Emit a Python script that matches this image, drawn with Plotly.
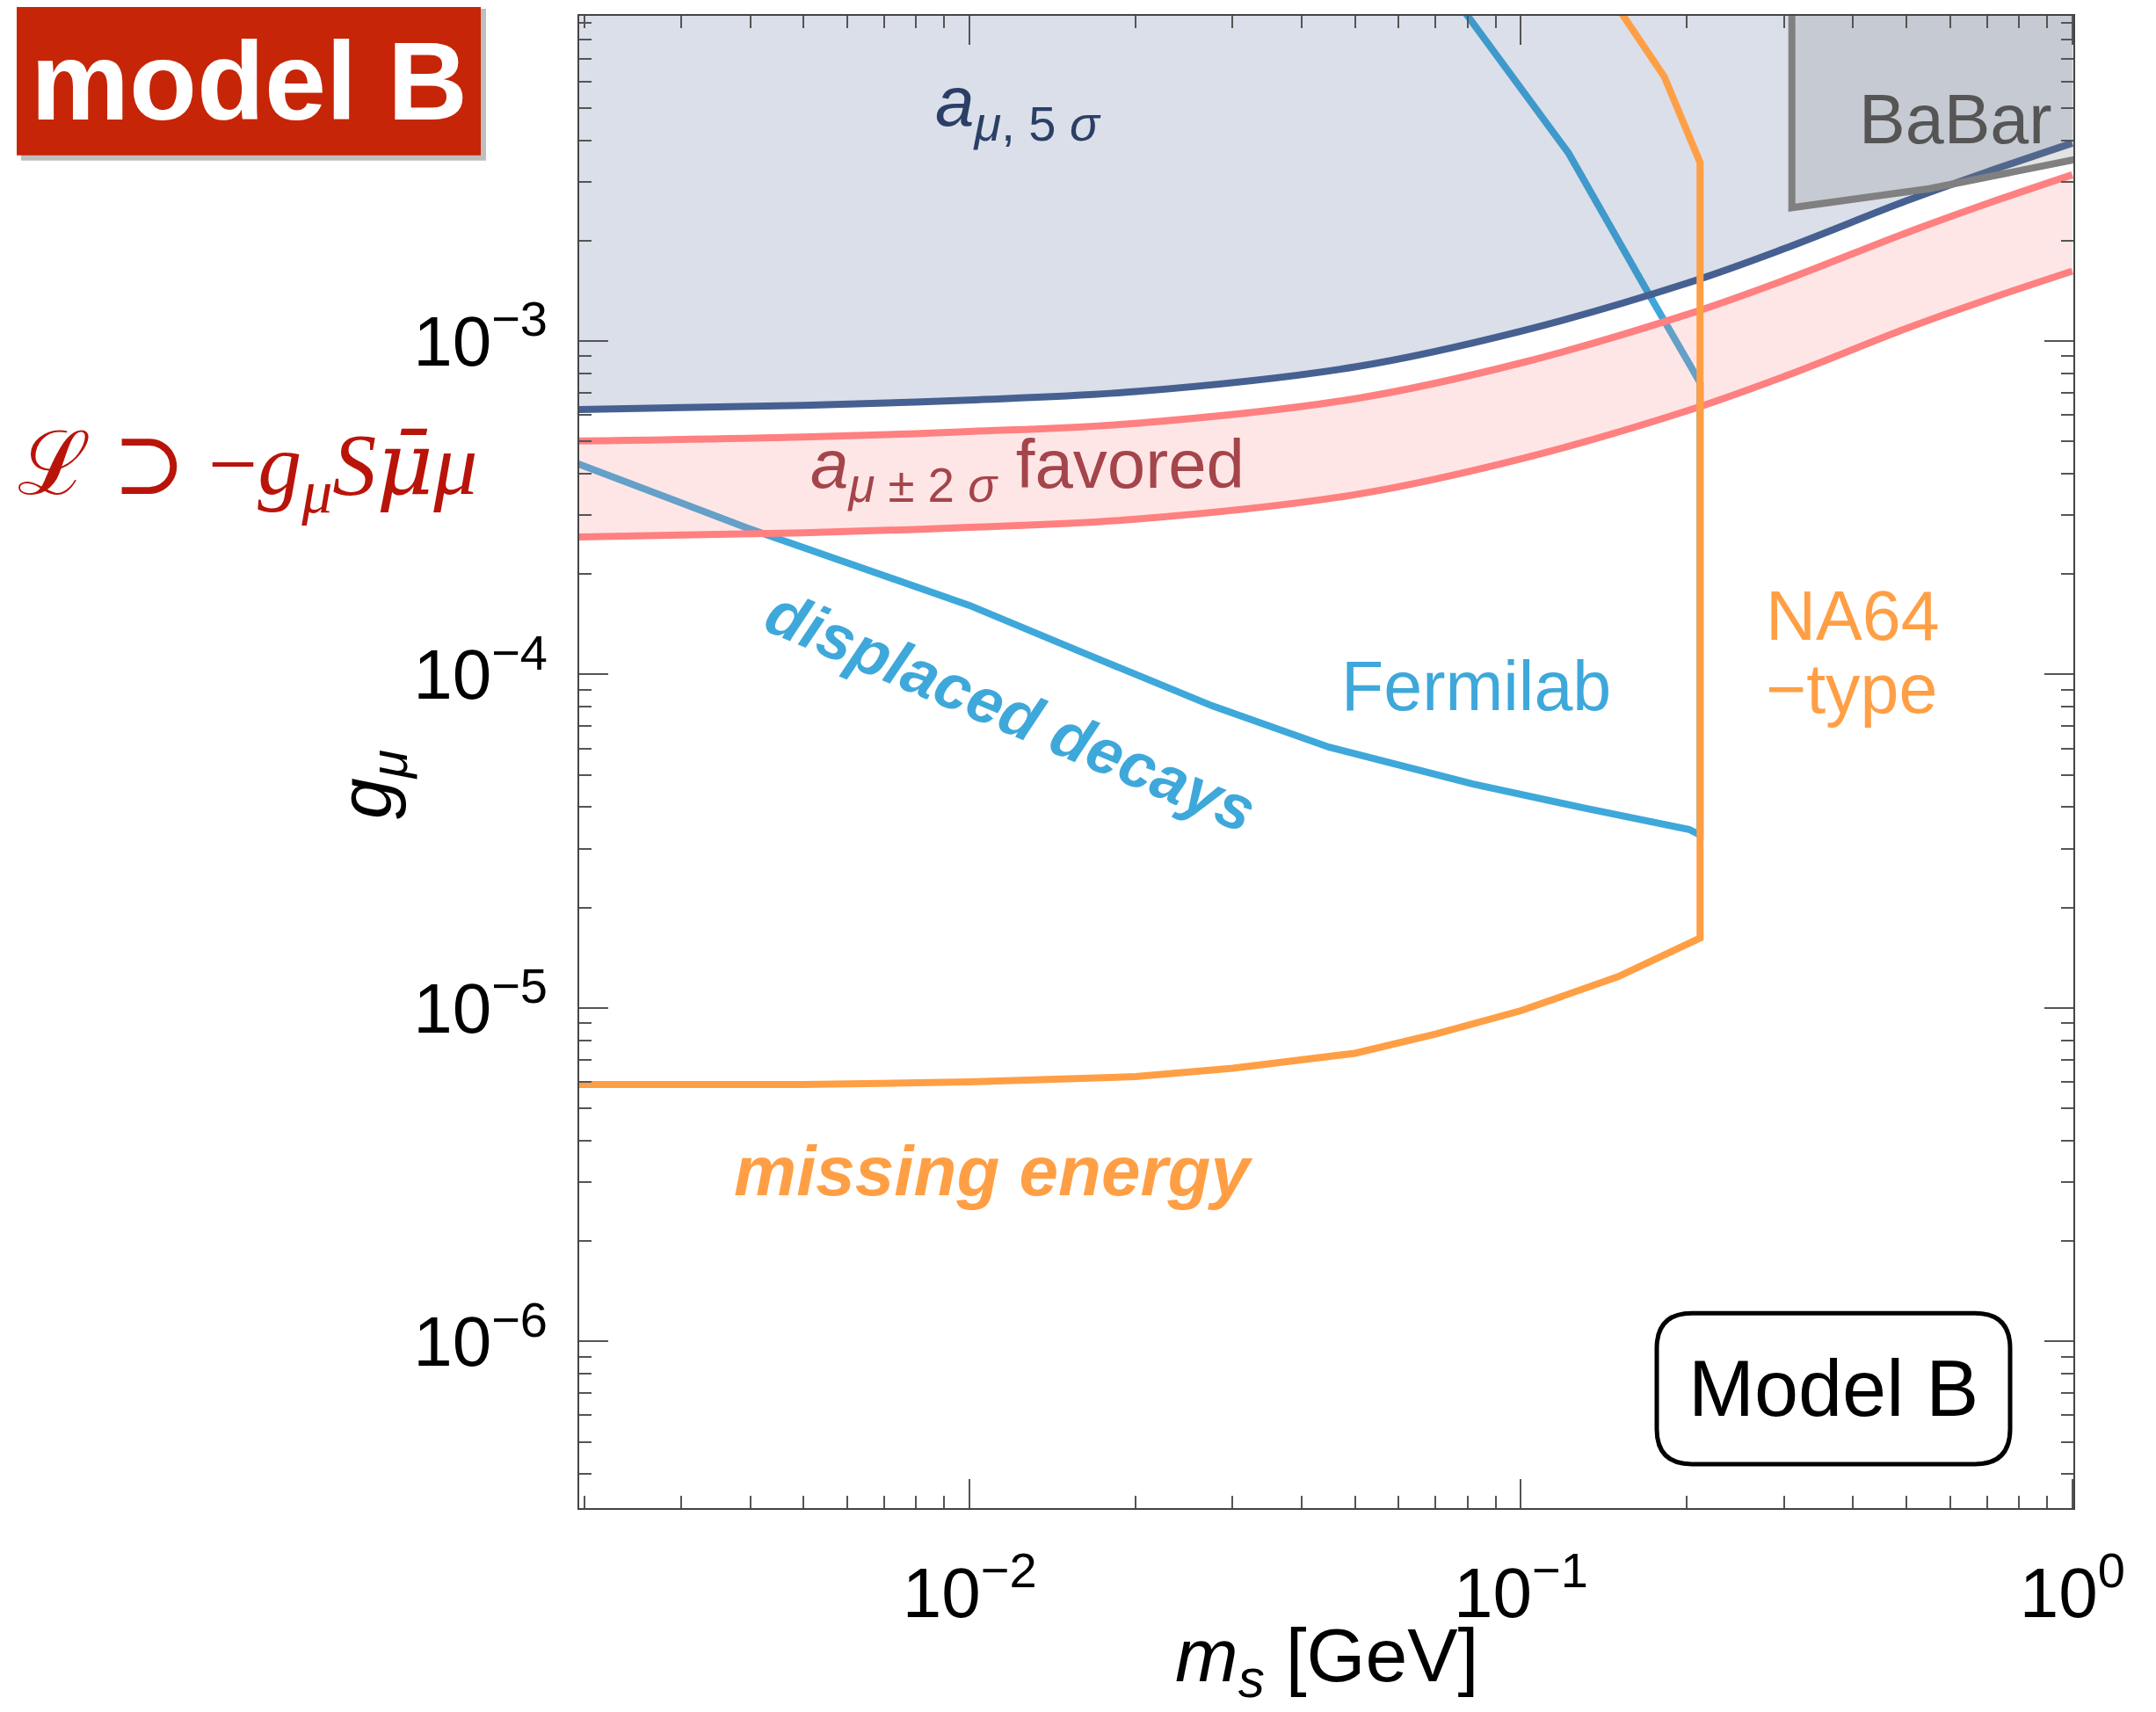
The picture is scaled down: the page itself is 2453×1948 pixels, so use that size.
import plotly.graph_objects as go

# ---------------- data ----------------
# a_mu 5 sigma exclusion boundary
m_5sig = [0.0019, 0.005, 0.01, 0.02, 0.05, 0.1, 0.2, 0.3, 0.5, 0.7, 1.0]
g_5sig = [6.22e-4, 6.41e-4, 6.65e-4, 7.05e-4, 8.36e-4, 1.07e-3, 1.49e-3, 1.89e-3, 2.63e-3, 3.21e-3, 3.92e-3]

# a_mu +-2 sigma favored band
m_fav = [0.0019, 0.005, 0.01, 0.02, 0.05, 0.1, 0.2, 0.3, 0.5, 0.7, 1.0]
g_fav_hi = [5.01e-4, 5.15e-4, 5.35e-4, 5.66e-4, 6.71e-4, 8.59e-4, 1.20e-3, 1.52e-3, 2.11e-3, 2.58e-3, 3.15e-3]
g_fav_lo = [2.58e-4, 2.66e-4, 2.76e-4, 2.92e-4, 3.46e-4, 4.43e-4, 6.17e-4, 7.82e-4, 1.09e-3, 1.33e-3, 1.62e-3]

# Fermilab displaced decays contour
m_fnal = [0.078, 0.122, 0.172, 0.2018, 0.2113, 0.2113, 0.2018, 0.129, 0.0819, 0.0449, 0.0276, 0.0163, 0.01, 0.00395, 0.0019]
g_fnal = [1.0e-2, 3.66e-3, 1.35e-3, 8.68e-4, 7.5e-4, 3.3e-5, 3.43e-5, 3.99e-5, 4.69e-5, 6.05e-5, 8.04e-5, 1.15e-4, 1.61e-4, 2.75e-4, 4.35e-4]

# NA64-type missing energy contour
m_na64 = [0.0019, 0.005, 0.01, 0.02, 0.03, 0.05, 0.07, 0.1, 0.15, 0.2113, 0.2113, 0.182, 0.142]
g_na64 = [5.89e-6, 5.89e-6, 6.00e-6, 6.22e-6, 6.59e-6, 7.31e-6, 8.35e-6, 9.81e-6, 1.24e-5, 1.62e-5, 3.43e-3, 6.2e-3, 1.14e-2]

# BaBar exclusion region
m_babar = [0.31, 0.31, 0.55, 1.0, 1.1, 1.1]
g_babar = [2.0e-2, 2.51e-3, 2.86e-3, 3.46e-3, 3.6e-3, 2.0e-2]

# axis ticks
x_major = [0.01, 0.1, 1.0]
x_major_text = ["10<sup>\u22122</sup>", "10<sup>\u22121</sup>", "10<sup>0</sup>"]
x_minor = [k * 10.0 ** e for e in (-3, -2, -1) for k in range(2, 10)]
y_major = [1e-6, 1e-5, 1e-4, 1e-3]
y_major_text = ["10<sup>\u22126</sup>", "10<sup>\u22125</sup>", "10<sup>\u22124</sup>", "10<sup>\u22123</sup>"]
y_minor = [k * 10.0 ** e for e in (-7, -6, -5, -4, -3) for k in range(2, 10)]

# ---------------- styling ----------------
C_5SIG = "#466091"
C_5SIG_FILL = "rgba(70,96,145,0.2)"
C_RED = "#FF8080"
C_PINK_FILL = "rgba(255,128,128,0.2)"
C_FNAL = "#3EA8DA"
C_NA64 = "#FF9F45"
C_BABAR = "#808080"
C_BABAR_FILL = "rgba(128,128,128,0.22)"
SANS = "Liberation Sans, Arial, Helvetica, sans-serif"
SERIF = "Liberation Serif, DejaVu Serif, serif"

# page geometry (the html body adds an 8px margin)
OFF = 8
PAGE_W, PAGE_H = 2453, 1948
PL, PT = 659, 16          # plot area top-left on the page
PW, PH = 1700, 1700       # plot area size
W, H = PAGE_W - OFF, PAGE_H - OFF
L, T = PL - OFF, PT - OFF
R, B = W - L - PW, H - T - PH


def px(x):
    return (x - PL) / PW


def py(y):
    return 1 - (y - PT) / PH


fig = go.Figure()

# Fermilab line (under the translucent fills)
fig.add_trace(go.Scatter(x=m_fnal, y=g_fnal, mode="lines",
                         line=dict(color=C_FNAL, width=8), hoverinfo="skip"))

# 5 sigma region fill (up to top)
fig.add_trace(go.Scatter(x=m_5sig + [m_5sig[-1], m_5sig[0]], y=g_5sig + [1.0, 1.0],
                         mode="lines", fill="toself", fillcolor=C_5SIG_FILL,
                         line=dict(width=0), hoverinfo="skip"))
# favored band
fig.add_trace(go.Scatter(x=m_fav, y=g_fav_lo, mode="lines", line=dict(width=0), hoverinfo="skip"))
fig.add_trace(go.Scatter(x=m_fav, y=g_fav_hi, mode="lines", fill="tonexty",
                         fillcolor=C_PINK_FILL, line=dict(width=0), hoverinfo="skip"))
fig.add_trace(go.Scatter(x=m_fav, y=g_fav_hi, mode="lines",
                         line=dict(color=C_RED, width=8, shape="spline"), hoverinfo="skip"))
fig.add_trace(go.Scatter(x=m_fav, y=g_fav_lo, mode="lines",
                         line=dict(color=C_RED, width=8, shape="spline"), hoverinfo="skip"))
fig.add_trace(go.Scatter(x=m_5sig, y=g_5sig, mode="lines",
                         line=dict(color=C_5SIG, width=8, shape="spline"), hoverinfo="skip"))

# BaBar
fig.add_trace(go.Scatter(x=m_babar, y=g_babar, mode="lines", fill="toself",
                         fillcolor=C_BABAR_FILL, line=dict(color=C_BABAR, width=8),
                         hoverinfo="skip"))

# NA64
fig.add_trace(go.Scatter(x=m_na64, y=g_na64, mode="lines",
                         line=dict(color=C_NA64, width=8), hoverinfo="skip"))

tick_common = dict(
    type="log", tickmode="array", ticks="inside", ticklen=33, tickwidth=2,
    tickcolor="#555555", showline=True, linecolor="#444444", linewidth=2,
    mirror="allticks", showgrid=False, zeroline=False,
)

fig.update_layout(
    width=W, height=H,
    margin=dict(l=L, r=R, t=T, b=B),
    paper_bgcolor="white", plot_bgcolor="white",
    showlegend=False,
    xaxis=dict(range=[-2.708, 0.002], tickvals=x_major, ticktext=x_major_text,
               tickfont=dict(family=SANS, size=80, color="black"),
               ticklabelstandoff=26,
               minor=dict(tickvals=x_minor, ticks="inside", ticklen=14, tickwidth=2,
                          tickcolor="#555555", showgrid=False),
               **tick_common),
    yaxis=dict(range=[-6.5, -2.025], tickvals=y_major, ticktext=y_major_text,
               tickfont=dict(family=SANS, size=80, color="black"),
               ticklabelstandoff=18,
               minor=dict(tickvals=y_minor, ticks="inside", ticklen=14, tickwidth=2,
                          tickcolor="#555555", showgrid=False),
               **tick_common),
)

ann = []


def add_text(x, y, text, size, color, family=SANS, angle=0, xanchor="center", yanchor="middle"):
    ann.append(dict(x=px(x), y=py(y), xref="paper", yref="paper", text=text,
                    showarrow=False, textangle=angle, xanchor=xanchor, yanchor=yanchor,
                    font=dict(family=family, size=size, color=color)))


add_text(1158, 120, "<i>a</i><sub><i>\u03bc</i>, 5 <i>\u03c3</i></sub>", 80, "#2B3F66")
add_text(1169, 532, "<i>a</i><sub><i>\u03bc</i> \u00b1 2 <i>\u03c3</i></sub> favored", 78, "#A4454B")
add_text(1679, 779, "Fermilab", 79, C_FNAL)
add_text(2007, 699, "NA64", 79, C_NA64, xanchor="left")
add_text(2007, 782, "\u2212type", 79, C_NA64, xanchor="left")
add_text(2225, 134, "BaBar", 79, "#555555")
add_text(2086, 1580, "Model B", 90, "black")
add_text(1150, 808, "<b><i>displaced decays</i></b>", 72, C_FNAL, angle=23)
add_text(1130, 1332, "<b><i>missing energy</i></b>", 80, C_NA64)
add_text(422, 892, "<i>g</i><sub><i>\u03bc</i></sub>", 84, "black", angle=-90)
add_text(1510, 1890, "<i>m</i><sub><i>s</i></sub> [GeV]", 86, "black")
add_text(282, 532,
         "\u2112 \u2283 \u2212<i>g</i><sub><i>\u03bc</i></sub><i>S</i>"
         "<span style='font-family:DejaVu Serif'><i>\u03bc\u0304</i></span><i>\u03bc</i>",
         100, "#B9140A", family=SERIF)
add_text(283, 91, "<b>model B</b>", 126, "white")
fig.update_layout(annotations=ann)

# shapes: Model B rounded box, model B badge with shadow
x0, x1 = px(1885), px(2287)
y0, y1 = py(1666), py(1494)
r = 40 / PW
path = (f"M {x0 + r},{y1} L {x1 - r},{y1} Q {x1},{y1} {x1},{y1 - r} "
        f"L {x1},{y0 + r} Q {x1},{y0} {x1 - r},{y0} L {x0 + r},{y0} "
        f"Q {x0},{y0} {x0},{y0 + r} L {x0},{y1 - r} Q {x0},{y1} {x0 + r},{y1} Z")
shapes = [
    dict(type="path", path=path, xref="paper", yref="paper",
         fillcolor="white", line=dict(color="black", width=5), layer="above"),
    dict(type="rect", xref="paper", yref="paper", x0=px(24), x1=px(553), y0=py(181), y1=py(8),
         fillcolor="rgba(0,0,0,0.25)", line=dict(width=0), layer="below"),
    dict(type="rect", xref="paper", yref="paper", x0=px(19), x1=px(547), y0=py(175), y1=py(3),
         fillcolor="#C62508", line=dict(width=0), layer="below"),
]
fig.update_layout(shapes=shapes)

fig.write_html("out.html")
